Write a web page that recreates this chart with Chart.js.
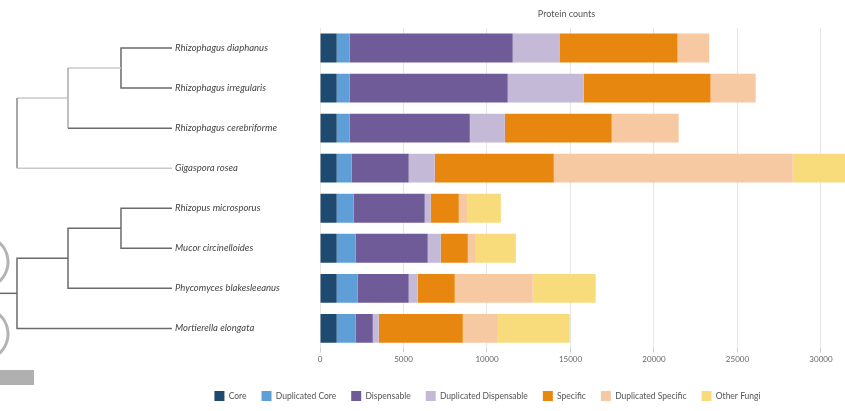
<!DOCTYPE html>
<html>
<head>
<meta charset="utf-8">
<script src="https://cdn.jsdelivr.net/npm/chart.js@4"></script>
<style>
  html, body { margin: 0; padding: 0; background: #fff; }
  #wrap { width: 845px; height: 411px; }
</style>
</head>
<body>
<div id="wrap"><canvas id="chart"></canvas></div>
<script>
const species = [
  'Rhizophagus diaphanus',
  'Rhizophagus irregularis',
  'Rhizophagus cerebriforme',
  'Gigaspora rosea',
  'Rhizopus microsporus',
  'Mucor circinelloides',
  'Phycomyces blakesleeanus',
  'Mortierella elongata',
];

const core =          [1000, 1000, 1000, 1000, 1000, 1000, 1000, 1000];
const dupCore =       [780, 780, 780, 900, 1020, 1140, 1260, 1140];
const dispensable =   [9760, 9460, 7190, 3410, 4250, 4310, 3050, 1020];
const dupDispensable = [2800, 4550, 2100, 1560, 360, 780, 540, 360];
const specific =      [7070, 7600, 6400, 7130, 1680, 1620, 2220, 5030];
const dupSpecific =   [1900, 2700, 4010, 14310, 540, 480, 4670, 2100];
const otherFungi =    [0, 0, 0, 3500, 1980, 2400, 3770, 4310];

const xTicks = [0, 5000, 10000, 15000, 20000, 25000, 30000];

const series = [
  ['Core', core, '#1f4a70'],
  ['Duplicated Core', dupCore, '#5d9fd6'],
  ['Dispensable', dispensable, '#6e5b98'],
  ['Duplicated Dispensable', dupDispensable, '#c4bad8'],
  ['Specific', specific, '#e8870f'],
  ['Duplicated Specific', dupSpecific, '#f6c9a2'],
  ['Other Fungi', otherFungi, '#f8dc7c'],
];

// dendrogram on the left, title and the small grey marks at the edge
const treePlugin = {
  id: 'tree',
  afterLayout(chart) {
    const lg = chart.legend;
    lg.left -= 45;
    lg.top += 10;
    lg.bottom += 10;
  },
  afterDraw(chart) {
    const ctx = chart.ctx;
    const ys = chart.scales.y;
    const y = i => ys.getPixelForValue(i);
    const end = 172;
    const dark = '#6b6b6b';
    const light = '#c8c8c8';
    const line = (pts, color) => {
      ctx.strokeStyle = color;
      ctx.beginPath();
      ctx.moveTo(pts[0][0], pts[0][1]);
      pts.slice(1).forEach(p => ctx.lineTo(p[0], p[1]));
      ctx.stroke();
    };
    ctx.save();
    ctx.lineWidth = 1.5;

    // upper clade
    const ab = (y(0) + y(1)) / 2;
    const abc = (ab + y(2)) / 2;
    line([[end, y(0)], [121, y(0)], [121, y(1)], [end, y(1)]], dark);
    line([[121, ab], [68, ab]], light);
    line([[68, ab], [68, y(2)]], '#a8a8a8');
    line([[68, y(2)], [end, y(2)]], dark);
    line([[68, abc], [17, abc]], light);
    line([[17, abc], [17, y(3)]], '#8a8a8a');
    line([[17, y(3)], [end, y(3)]], light);

    // lower clade
    const ef = (y(4) + y(5)) / 2;
    const efg = (ef + y(6)) / 2;
    const root = (efg + y(7)) / 2;
    line([[end, y(4)], [121, y(4)], [121, y(5)], [end, y(5)]], dark);
    line([[121, ef], [68, ef], [68, y(6)], [end, y(6)]], dark);
    line([[68, efg], [17, efg], [17, y(7)], [end, y(7)]], dark);
    line([[0, root], [17, root]], dark);

    // cut-off marks at the left edge
    ctx.strokeStyle = '#b4b4b4';
    ctx.lineWidth = 3;
    ctx.beginPath();
    ctx.arc(-18, 262, 26, -0.95, 0.95);
    ctx.stroke();
    ctx.beginPath();
    ctx.arc(-18, 334, 26, -0.95, 0.95);
    ctx.stroke();
    ctx.fillStyle = '#b0b0b0';
    ctx.fillRect(0, 370, 34, 15);

    // title over the plot area
    const xs = chart.scales.x;
    const cx = (xs.getPixelForValue(0) + xs.getPixelForValue(30000)) / 2 - 4;
    ctx.fillStyle = '#555';
    ctx.font = '9px Lato';
    ctx.textAlign = 'center';
    ctx.textBaseline = 'middle';
    ctx.fillText('Protein counts', cx, 14);
    ctx.restore();
  },
};

new Chart(document.getElementById('chart'), {
  type: 'bar',
  data: {
    labels: species,
    datasets: series.map(([label, data, color]) => ({
      label,
      data,
      backgroundColor: color,
      borderWidth: 0,
    })),
  },
  options: {
    indexAxis: 'y',
    responsive: true,
    maintainAspectRatio: false,
    animation: false,
    layout: { padding: { left: 175, top: 28, right: 0, bottom: 10 } },
    scales: {
      x: {
        stacked: true,
        min: 0,
        max: 31440,
        afterBuildTicks: scale => {
          scale.ticks = xTicks.map(v => ({ value: v }));
        },
        ticks: {
          color: '#666',
          font: { family: 'Lato', size: 8 },
          padding: 2,
          callback: v => String(v),
        },
        grid: { color: '#e6e6e6', tickLength: 4, tickColor: '#d0d0d0' },
        border: { display: false },
      },
      y: {
        stacked: true,
        afterFit: scale => { scale.width = 145; },
        ticks: {
          crossAlign: 'far',
          color: '#444',
          font: { family: 'Lato', size: 9.5, style: 'italic' },
        },
        grid: { display: false },
        border: { display: false },
      },
    },
    plugins: {
      legend: {
        position: 'bottom',
        labels: {
          boxWidth: 10,
          boxHeight: 10,
          padding: 15,
          color: '#555',
          font: { family: 'Lato', size: 8.5 },
        },
      },
      tooltip: { enabled: false },
    },
  },
  plugins: [treePlugin],
});
</script>
</body>
</html>
